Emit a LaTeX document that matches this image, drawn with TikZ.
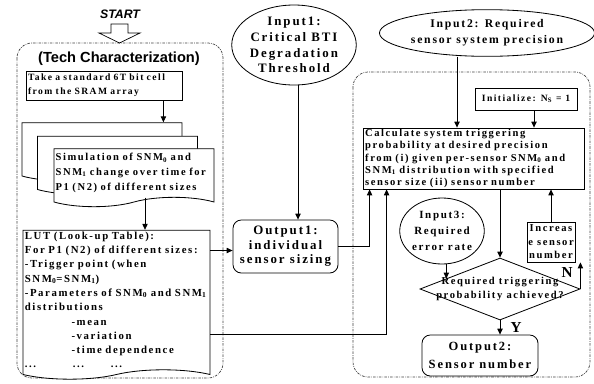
\documentclass[tikz,border=0pt]{standalone}
\usepackage{fontspec}
\setmainfont{Liberation Serif}[LetterSpace=15]
\setsansfont{Liberation Sans}
\usetikzlibrary{shapes.geometric,shapes.symbols,arrows.meta}

\tikzset{
    region/.style={draw=black!75, line width=0.6pt, rounded corners=4.5mm,
        dash pattern=on 2.2pt off 1pt on 0.6pt off 1pt},
    arr/.style={-{Triangle[length=5pt,width=4.5pt]}, line width=0.7pt},
    procbox/.style={draw, line width=0.7pt, fill=white, inner sep=0.5mm,
        font=\bfseries\fontsize{8.2}{12}\selectfont},
    doc/.style={tape, tape bend top=none, tape bend height=8pt, draw, fill=white,
        line width=0.7pt, minimum width=48mm, minimum height=17.4mm, inner xsep=0.5mm,
        align=left, font=\bfseries\fontsize{9}{12.5}\selectfont},
    ioell/.style={ellipse, draw, line width=0.7pt, inner sep=0pt, align=center,
        font=\bfseries\fontsize{11}{13.5}\selectfont},
    outbox/.style={rectangle, rounded corners=2.5mm, draw, line width=0.7pt,
        align=center, font=\bfseries\fontsize{11}{12.5}\selectfont},
    decide/.style={diamond, draw, line width=0.7pt, inner sep=0pt},
    diatext/.style={align=center, font=\bfseries\fontsize{9}{12}\selectfont},
    sanslabel/.style={font=\sffamily\bfseries\fontsize{12.5}{14}\selectfont},
    yn/.style={font=\bfseries\fontsize{13}{14}\selectfont}
}

\begin{document}
\begin{tikzpicture}[x=0.3mm, y=-0.3mm]
    \useasboundingbox (0,0) rectangle (594,383);

    % the two dashed groups
    \draw[region] (17,43) rectangle (223,378);
    \draw[region] (353,72) rectangle (590,377);

    % start
    \node[font=\sffamily\bfseries\itshape\fontsize{10.5}{12}\selectfont] (start) at (120,14) {START};
    \draw[line width=0.6pt, fill=white] (111,24) -- (128,24) -- (128,33) -- (140,33)
        -- (119.5,43) -- (99,33) -- (111,33) -- cycle;

    % tech characterization
    \node[sanslabel] (techlbl) at (119,59) {(Tech Characterization)};
    \node[procbox, minimum width=46.8mm, minimum height=8.7mm, text width=45.6mm, align=left]
        (take) at (104,85.5) {Take a standard 6T bit cell\\from the SRAM array};
    \node[doc] (sheet1) at (102,147) {};
    \node[doc] (sheet2) at (117.5,160.5) {};
    \node[doc, text width=47mm] (sheet3) at (134,173)
        {Simulation of SNM\textsubscript{0} and\\SNM\textsubscript{1} change over time for\\P1 (N2) of different sizes};
    \node[doc, minimum width=56.1mm, minimum height=41mm, inner ysep=0.5mm, text width=55mm,
        font=\bfseries\fontsize{9.2}{12.2}\selectfont] (lut) at (116.5,300)
        {LUT (Look-up Table):\\
         For P1 (N2) of different sizes:\\
         -Trigger point (when\\
         SNM\textsubscript{0}=SNM\textsubscript{1})\\
         -Parameters of SNM\textsubscript{0} and SNM\textsubscript{1}\\
         distributions\\
         \hspace*{14mm}-mean\\
         \hspace*{14mm}-variation\\
         \hspace*{14mm}-time dependence\\
         ...\hspace*{11mm}...\hspace*{8mm}...};

    \draw[arr] ([xshift=-5.7mm]take.south east) -- ([xshift=-5.7mm]take.south east |- sheet1.north);
    \draw[arr] ([xshift=3.3mm]sheet3.south) -- ([xshift=3.3mm]sheet3.south |- lut.north);

    % individual sensor
    \node[ioell, minimum width=34.2mm, minimum height=24mm] (in1) at (294,45)
        {Input1:\\Critical BTI\\Degradation\\Threshold};
    \node[outbox, minimum width=31.5mm, minimum height=15.9mm] (out1) at (285.5,246.5)
        {Output1:\\individual\\sensor sizing};
    \draw[arr] ([xshift=1.2mm]in1.south) -- ([xshift=1.2mm]in1.south |- out1.north);
    \draw[arr] ([yshift=-1.2mm]lut.east |- out1.west) -- ([yshift=-1.2mm]out1.west);

    % system
    \node[ioell, minimum width=50mm, minimum height=14mm, font=\bfseries\fontsize{10}{13.5}\selectfont]
        (in2) at (487,33) {Input2: Required\\sensor system precision};
    \node[procbox, minimum width=30.6mm, minimum height=6.6mm, font=\bfseries\fontsize{8.2}{10}\selectfont]
        (init) at (526,99) {Initialize: N\textsubscript{S} = 1};
    \node[procbox, minimum width=66.3mm, minimum height=18.3mm, text width=65mm, align=left, inner ysep=0.3mm,
        font=\bfseries\fontsize{9}{10.5}\selectfont] (calc) at (473.5,158.5)
        {Calculate system triggering\\
         probability at desired precision\\
         from (i) given per-sensor SNM\textsubscript{0} and\\
         SNM\textsubscript{1} distribution with specified\\
         sensor size (ii) sensor number};
    \node[ioell, minimum width=24.6mm, minimum height=19.8mm, font=\bfseries\fontsize{9.4}{13.5}\selectfont]
        (in3) at (442,231) {Input3:\\Required\\error rate};
    \node[decide, minimum width=48mm, minimum height=18.6mm,
        label={[diatext]center:Required triggering\\probability achieved?}] (dia) at (500,289) {};
    \node[procbox, minimum width=14.4mm, minimum height=12mm, inner sep=0.3mm, align=center,
        font=\bfseries\fontsize{9}{11.5}\selectfont] (inc) at (551,242) {Increas\\e sensor\\number};
    \node[outbox, minimum width=34.8mm, minimum height=12.3mm, font=\bfseries\fontsize{10.7}{15}\selectfont]
        (out2) at (480,355.5) {Output2:\\Sensor number};
    \node[yn] (nlbl) at (567,273) {N};
    \node[yn] (ylbl) at (516,328) {Y};

    \draw[arr] ([xshift=-9mm]in2.south) -- ([xshift=-9mm]in2.south |- calc.north);
    \draw[arr] ([xshift=2.4mm]init.south) -- ([xshift=2.4mm]init.south |- calc.north);
    \draw[arr] (out1.east) -| ([xshift=2.1mm]calc.south west);
    \draw[arr] ([yshift=-10.35mm]lut.east) -| ([xshift=7.2mm]calc.south west);
    \draw[arr] (calc.south -| dia.north) -- (dia.north);
    \draw[arr] (dia.169 |- in3.south) -- (dia.169);
    \draw[arr] (dia.east) -- (dia.east |- inc.south);
    \draw[arr] (inc.north) -- (inc.north |- calc.south);
    \draw[arr] (dia.south) -- (out2.north -| dia.south);
\end{tikzpicture}
\end{document}
